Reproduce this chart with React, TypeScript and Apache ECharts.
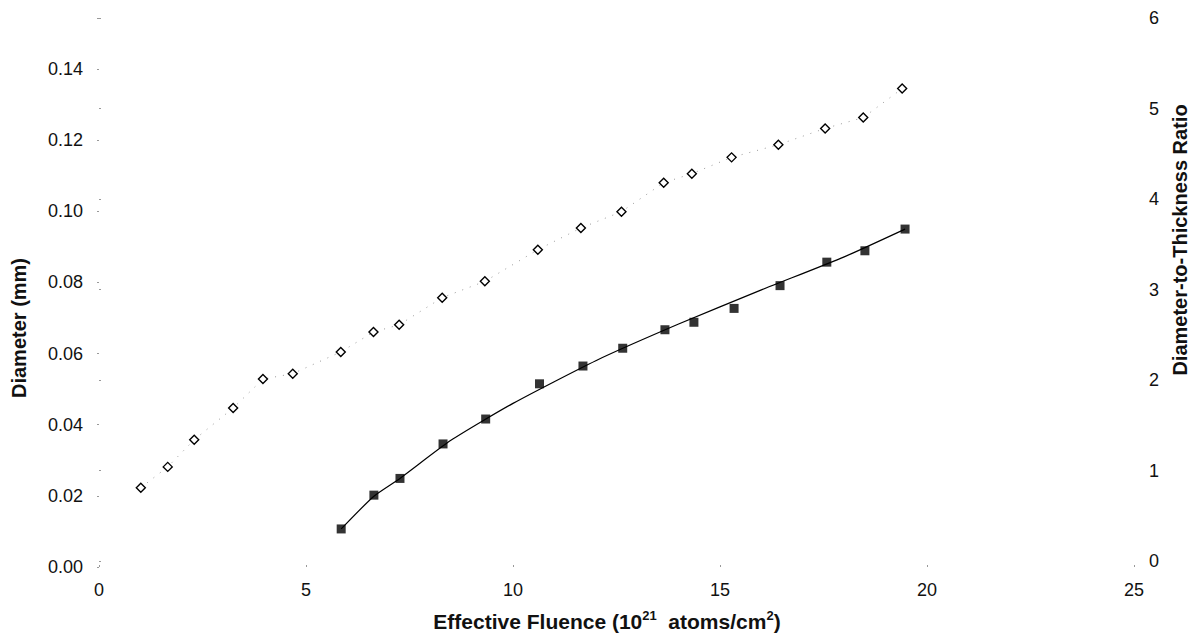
import React, { useEffect, useRef } from "react";
import * as echarts from "echarts";

// Diameter (mm) vs effective fluence — solid squares
const diameterFluence = [5.85, 6.64, 7.27, 8.31, 9.34, 10.64, 11.69, 12.65, 13.67, 14.37, 15.34, 16.45, 17.58, 18.5, 19.47];
const diameterMm = [0.0107, 0.0202, 0.0249, 0.0346, 0.0416, 0.0515, 0.0565, 0.0615, 0.0667, 0.0688, 0.0727, 0.0791, 0.0857, 0.0889, 0.095];

// Fitted curve through the diameter points
const fitFluence = [5.85, 6.64, 7.27, 8.5, 10, 12, 14, 16, 18, 19.47];
const fitDiameter = [0.0107, 0.0199, 0.0249, 0.0356, 0.046, 0.058, 0.0683, 0.0779, 0.0872, 0.095];

// Diameter-to-thickness ratio — open diamonds
const ratioFluence = [1.01, 1.66, 2.3, 3.24, 3.96, 4.68, 5.84, 6.63, 7.25, 8.29, 9.32, 10.6, 11.64, 12.62, 13.64, 14.32, 15.28, 16.41, 17.54, 18.46, 19.4];
const ratioValues = [0.81, 1.04, 1.34, 1.69, 2.01, 2.07, 2.31, 2.53, 2.61, 2.91, 3.09, 3.44, 3.68, 3.86, 4.18, 4.28, 4.46, 4.6, 4.78, 4.9, 5.22];

const xTitle = ["Effective Fluence (10", "21", "  atoms/cm", "2", ")"];
const leftTitle = "Diameter (mm)";
const rightTitle = "Diameter-to-Thickness Ratio";

const FONT = "'Liberation Sans', Arial, Helvetica, sans-serif";

export default function App() {
  const ref = useRef<HTMLDivElement>(null);

  useEffect(() => {
    if (!ref.current) return;
    const chart = echarts.init(ref.current, undefined, { renderer: "svg" });

    const labelStyle = { color: "#111", fontSize: 18, fontFamily: FONT };
    const tick = { show: true, length: 2, lineStyle: { color: "#999", width: 1 } };

    const option: any = {
      animation: false,
      backgroundColor: "#fff",
      textStyle: { fontFamily: FONT },
      grid: [
        { left: 99, right: 63, top: 18, bottom: 76, containLabel: false },
        { left: 99, right: 63, top: 18, bottom: 82, containLabel: false },
      ],
      xAxis: [
        {
          type: "value",
          gridIndex: 0,
          min: 0,
          max: 25,
          interval: 5,
          axisLine: { show: false },
          axisTick: { ...tick, inside: true },
          splitLine: { show: false },
          axisLabel: { ...labelStyle, margin: 14 },
        },
        {
          type: "value",
          gridIndex: 1,
          min: 0,
          max: 25,
          interval: 5,
          show: false,
        },
      ],
      yAxis: [
        {
          type: "value",
          gridIndex: 0,
          position: "left",
          min: 0,
          max: 0.15434,
          interval: 0.02,
          axisLine: { show: false },
          axisTick: tick,
          splitLine: { show: false },
          axisLabel: {
            ...labelStyle,
            margin: 16,
            formatter: (v: number) => {
              const k = v / 0.02;
              return Math.abs(k - Math.round(k)) < 1e-6 ? v.toFixed(2) : "";
            },
          },
        },
        {
          type: "value",
          gridIndex: 1,
          position: "right",
          min: 0,
          max: 6,
          interval: 1,
          axisLine: { show: false },
          axisTick: tick,
          splitLine: { show: false },
          axisLabel: { ...labelStyle, margin: 15 },
        },
      ],
      graphic: [
        {
          type: "text",
          x: 19,
          y: 328,
          rotation: Math.PI / 2,
          style: {
            text: leftTitle,
            fill: "#111",
            font: `bold 20px ${FONT}`,
            align: "center",
            verticalAlign: "middle",
          },
        },
        {
          type: "text",
          x: 1180,
          y: 240,
          rotation: Math.PI / 2,
          style: {
            text: rightTitle,
            fill: "#111",
            font: `bold 20px ${FONT}`,
            align: "center",
            verticalAlign: "middle",
          },
        },
        {
          type: "text",
          x: 607,
          y: 621,
          style: {
            text: `{a|${xTitle[0]}}{s|${xTitle[1]}}{a|${xTitle[2]}}{s|${xTitle[3]}}{a|${xTitle[4]}}`,
            align: "center",
            verticalAlign: "middle",
            rich: {
              a: { fontSize: 21, fontWeight: "bold", fontFamily: FONT, fill: "#111", lineHeight: 24 },
              s: { fontSize: 13, fontWeight: "bold", fontFamily: FONT, fill: "#111", lineHeight: 24, verticalAlign: "top" },
            },
          },
        },
      ],
      series: [
        {
          name: "Ratio",
          type: "line",
          xAxisIndex: 1,
          yAxisIndex: 1,
          data: ratioFluence.map((f, i) => [f, ratioValues[i]]),
          symbol: "diamond",
          symbolSize: 9,
          itemStyle: { color: "#fff", borderColor: "#000", borderWidth: 1.4 },
          lineStyle: { color: "#999", width: 1, type: [1, 7] },
          z: 2,
        },
        {
          name: "Fit",
          type: "line",
          xAxisIndex: 0,
          yAxisIndex: 0,
          data: fitFluence.map((f, i) => [f, fitDiameter[i]]),
          smooth: 0.2,
          showSymbol: false,
          symbol: "none",
          lineStyle: { color: "#000", width: 1.2 },
          z: 2,
        },
        {
          name: "Diameter",
          type: "scatter",
          xAxisIndex: 0,
          yAxisIndex: 0,
          data: diameterFluence.map((f, i) => [f, diameterMm[i]]),
          symbol: "rect",
          symbolSize: 9,
          itemStyle: { color: "#000" },
          z: 3,
        },
      ],
    };

    chart.setOption(option);
    return () => chart.dispose();
  }, []);

  return (
    <div
      ref={ref}
      style={{ position: "absolute", left: 0, top: 0, width: 1197, height: 643, background: "#fff" }}
    />
  );
}
